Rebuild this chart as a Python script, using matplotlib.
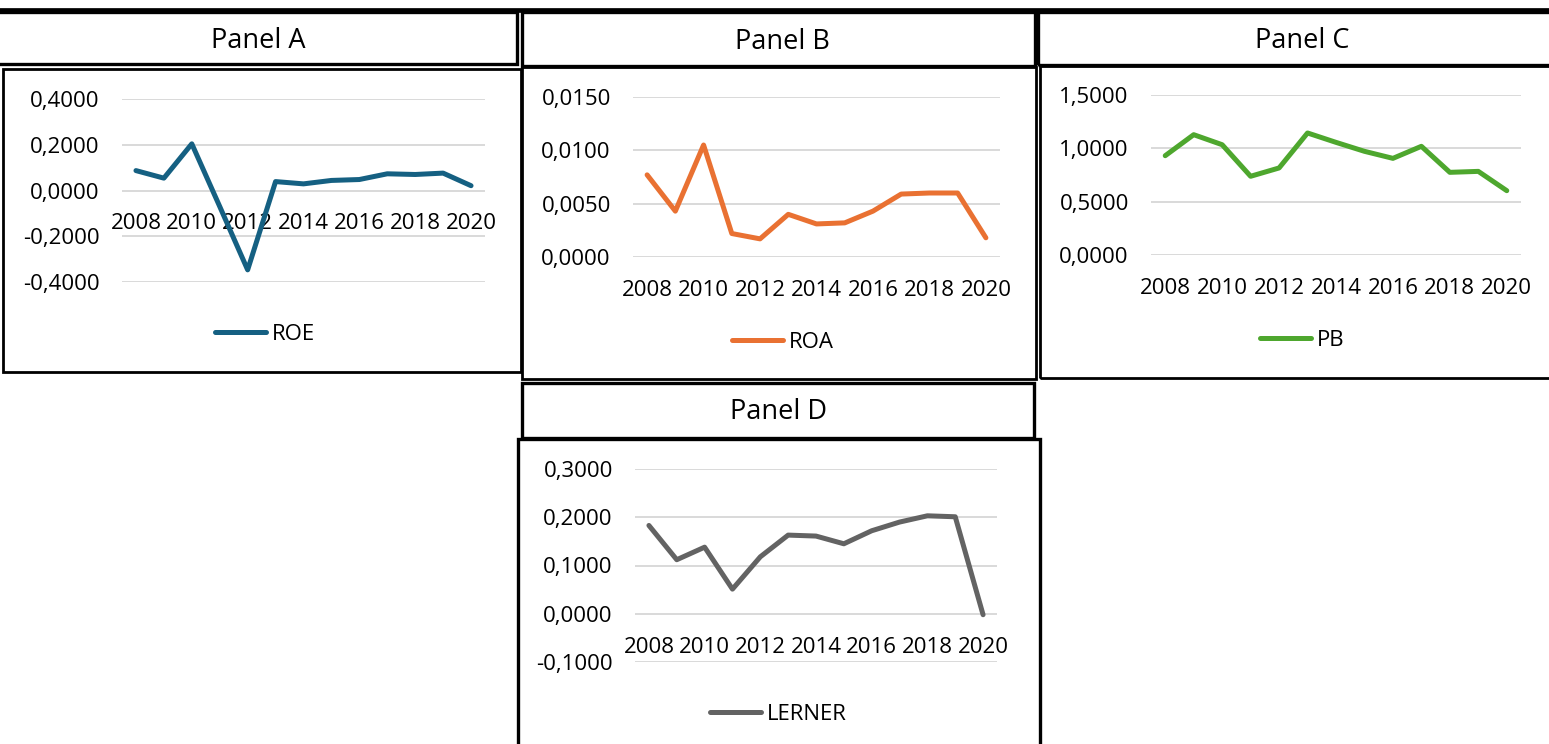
"""four-panel bank indicators, excel style boxes"""
import matplotlib
matplotlib.use('Agg')
import matplotlib.pyplot as plt
from matplotlib.patches import Rectangle
from matplotlib.lines import Line2D

plt.rcParams['font.family'] = ['Open Sans', 'DejaVu Sans']

years = list(range(2008, 2021))
roe = [0.087, 0.054, 0.204, -0.070, -0.347, 0.039, 0.029, 0.044, 0.048, 0.073, 0.070, 0.076, 0.021]
roa = [0.0077, 0.0043, 0.0105, 0.0022, 0.0017, 0.0040, 0.0031, 0.0032, 0.0043, 0.0059, 0.0060, 0.0060, 0.0018]
pb = [0.931, 1.128, 1.034, 0.738, 0.816, 1.144, 1.056, 0.972, 0.906, 1.019, 0.775, 0.784, 0.603]
lerner = [0.183, 0.112, 0.138, 0.051, 0.118, 0.163, 0.161, 0.145, 0.172, 0.190, 0.203, 0.201, -0.002]

W, H = 1549, 744
fig = plt.figure(figsize=(W / 100, H / 100), dpi=100)


def frac(x0, y0, x1, y1):
    # pixel box (top-left origin) -> figure fraction rect
    return [x0 / W, 1 - y1 / H, (x1 - x0) / W, (y1 - y0) / H]


def box(x0, y0, x1, y1, lw=2.0):
    r = frac(x0, y0, x1, y1)
    fig.add_artist(Rectangle((r[0], r[1]), r[2], r[3], transform=fig.transFigure,
                             fill=False, ec='black', lw=lw, clip_on=False))


# top rule
fig.add_artist(Line2D([0, 1], [1 - 10 / H, 1 - 10 / H], transform=fig.transFigure,
                      color='black', lw=3.4))

# title boxes and chart boxes
box(-5, 12, 517, 64, 2.4)
box(3, 69, 521, 372, 2.0)
box(522, 12, 1035, 66, 2.4)
box(522, 67, 1036, 379, 2.0)
box(1038, 12, 1560, 65, 2.4)
box(1040, 66, 1560, 378, 2.0)
box(522, 383, 1034, 438, 2.4)
box(518, 439, 1040, 760, 2.4)

titles = [('Panel A', 258, 41), ('Panel B', 782, 42), ('Panel C', 1302, 41), ('Panel D', 778, 412)]
for t, x, y in titles:
    fig.text(x / W, 1 - y / H, t, ha='center', va='center', fontsize=19.5)

panels = [
    # values, name, color, plot area, ylim, yticks, legend anchor
    (roe, 'ROE', '#156082', (122, 99, 485, 282), (-0.4, 0.4), [-0.4, -0.2, 0.0, 0.2, 0.4], (215, 334)),
    (roa, 'ROA', '#E97132', (633, 97, 1000, 257), (0, 0.015), [0, 0.005, 0.01, 0.015], (732, 342)),
    (pb, 'PB', '#4EA72E', (1151, 95, 1521, 255), (0, 1.5), [0, 0.5, 1.0, 1.5], (1260, 340)),
    (lerner, 'LERNER', '#636363', (635, 469, 997, 662), (-0.1, 0.3), [-0.1, 0, 0.1, 0.2, 0.3], (710, 714)),
]

idx = list(range(len(years)))
for vals, name, col, area, ylim, yt, leg in panels:
    ax = fig.add_axes(frac(*area))
    ax.set_facecolor('none')
    ax.plot(idx, vals, color=col, lw=3.6, solid_capstyle='round', solid_joinstyle='round',
            label=name, zorder=3)
    ax.set_xlim(-0.5, len(years) - 0.5)
    ax.set_ylim(*ylim)
    ax.set_yticks(yt)
    ax.set_yticklabels([f"{v:.4f}".replace('.', ',') for v in yt])
    ax.yaxis.grid(True, color='#d9d9d9', lw=1.4)
    ax.set_axisbelow(True)
    ax.set_xticks(idx[::2])
    ax.set_xticklabels([str(y) for y in years[::2]])
    for s in ax.spines.values():
        s.set_visible(False)
    ax.spines['bottom'].set_position(('data', 0))
    ax.tick_params(axis='y', length=0, pad=16, labelsize=16)
    ax.tick_params(axis='x', length=0, pad=16.5, labelsize=16)
    ax.legend(loc='center left', bbox_to_anchor=(leg[0] / W, 1 - leg[1] / H),
              bbox_transform=fig.transFigure, frameon=False, fontsize=16,
              handlelength=2.3, handletextpad=0.25, borderpad=0, borderaxespad=0)

fig.savefig('out.png', dpi=100)
